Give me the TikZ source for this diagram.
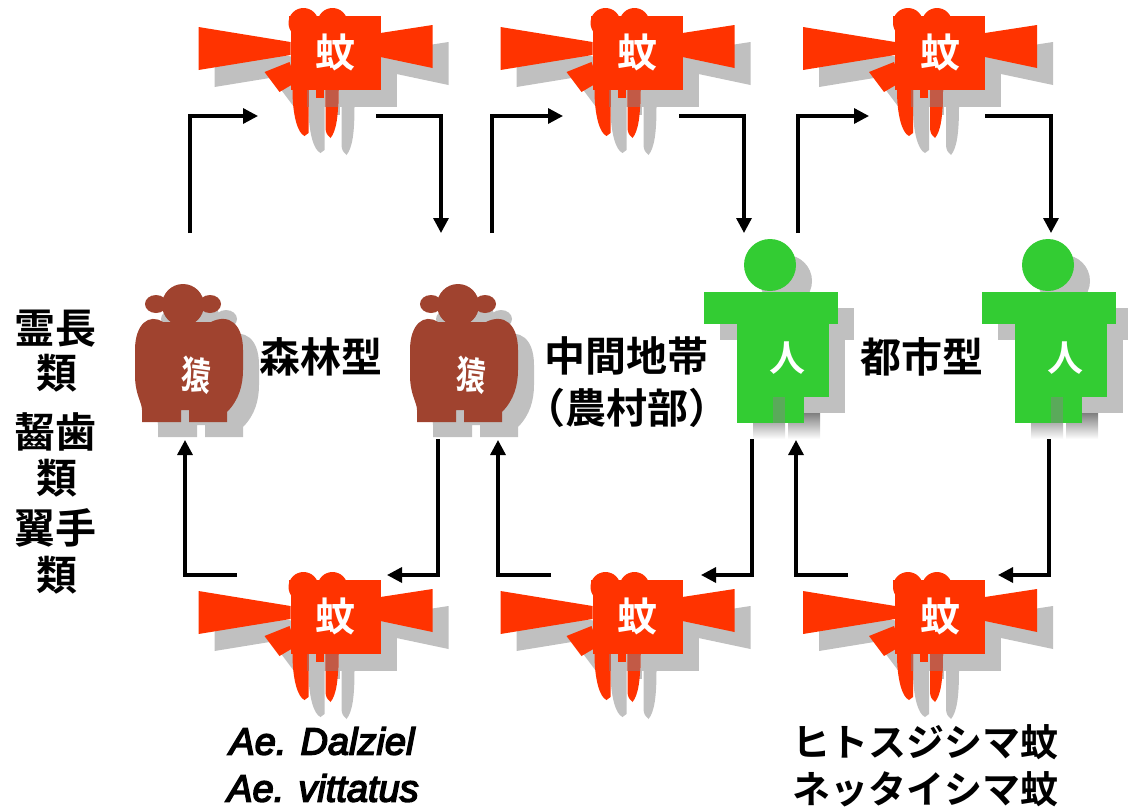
\documentclass[tikz,border=0pt]{standalone}
\usepackage{fontspec}
\newfontfamily\jp{Noto Sans CJK JP}[BoldFont={Noto Sans CJK JP Bold}]
\newfontfamily\latit{Liberation Sans Italic}[FakeBold=4]
\usetikzlibrary{arrows.meta}
\definecolor{mred}{HTML}{FF3300}
\definecolor{mbrown}{HTML}{A0432F}
\definecolor{hgreen}{HTML}{33CC33}
\definecolor{shade}{HTML}{C0C0C0}
\definecolor{movl}{HTML}{C25A46}
\definecolor{hovl}{HTML}{5AAA5A}
\tikzset{
  arr/.style={line width=3.3pt,-{Triangle[length=15pt,width=15pt]}},
  lbl/.style={inner sep=0pt,font=\jp\bfseries\fontsize{41}{46}\selectfont},
  icontext/.style={inner sep=0pt,text=white,font=\jp\bfseries\fontsize{40}{44}\selectfont},
  species/.style={inner sep=0pt,font=\jp\bfseries\fontsize{38}{42}\selectfont},
  latin/.style={inner sep=0pt,font=\latit\fontsize{38}{42}\selectfont}
}
% ---------- mosquito ----------
\newcommand{\prongs}[1]{%
  \path[#1] (-43,37) .. controls (-43,62) and (-38,80) .. (-31,83) -- (-27,80) -- (-27,37) -- cycle
            (-10,37) -- (-10,76) .. controls (-9,81) .. (-5,85) .. controls (1,78) and (3,62) .. (3,37) -- cycle;}
\newcommand{\mosqparts}[1]{%
  \path[#1] (-137,-26) -- (-45,-11) -- (-45,2) -- (-137,17) -- cycle;
  \path[#1] (45,-20) -- (97,-28) -- (97,15) -- (45,4) -- cycle;
  \path[#1] (-71,19) -- (-46,9) -- (-39,29) -- (-56,39) -- cycle;
  \path[#1] (-45,-37) rectangle (45,37);
  \path[#1] (-32,-30) circle (15pt);
  \path[#1] (-3,-30) circle (15pt);
  \path[#1] (-47,-30) rectangle (12,-37);
  \path[#1] (-20,37) rectangle (-12,45);
  \prongs{#1}}
\newcommand{\mosquito}[3]{%
  \begin{scope}[shift={(#1,#2)}]
    \begin{scope}[shift={(16,17)}]\mosqparts{fill=shade}\end{scope}
    \mosqparts{fill=mred}
    \begin{scope}\prongs{clip}\fill[movl] (-29,37) rectangle (61,54);\end{scope}
    \node[icontext] (#3) at (0,-1) {蚊};
  \end{scope}}
% ---------- monkey ----------
\newcommand{\monkparts}[1]{%
  \path[#1] (-6,-65) circle (21pt);
  \path[#1] (-33,-66) ellipse (11pt and 9pt);
  \path[#1] (21,-66) ellipse (11pt and 9pt);
  \path[#1] (-26,-48) .. controls (-40,-57) and (-54,-46) .. (-54,-20) -- (-54,5)
     .. controls (-54,25) and (-47,32) .. (-47,40) -- (-47,52) -- (-8,52) -- (-8,40)
     -- (0,40) -- (0,52) -- (38,52) -- (38,42) .. controls (50,30) and (54,15) .. (54,0)
     -- (54,-20) .. controls (54,-46) and (40,-57) .. (22,-48) -- cycle;}
\newcommand{\monkey}[3]{%
  \begin{scope}[shift={(#1,#2)}]
    \begin{scope}[shift={(16,15)}]\monkparts{fill=shade}\end{scope}
    \monkparts{fill=mbrown}
    \node[icontext,font=\jp\bfseries\fontsize{38}{42}\selectfont,xscale=0.78,rotate=-6] (#3) at (7,5) {猿};
  \end{scope}}
% ---------- human ----------
\newcommand{\humparts}[1]{%
  \path[#1] (0,0) circle (26pt);
  \path[#1] (-66,27) rectangle (68,59);
  \path[#1] (-33,59) rectangle (59,132);}
\newcommand{\human}[3]{%
  \begin{scope}[shift={(#1,#2)}]
    \begin{scope}[shift={(16,16)}]\humparts{fill=shade}
      \fill[shade] (-33,132) rectangle (-1,158);
      \fill[shade] (2,132) rectangle (34,158);\end{scope}
    \humparts{fill=hgreen}
    \fill[hgreen] (-33,131) rectangle (34,158);
    \fill[hovl] (3,132) rectangle (15,158);
    \node[icontext,font=\jp\bfseries\fontsize{36}{40}\selectfont] (#3) at (17,93) {人};
  \end{scope}}
\begin{document}
\begin{tikzpicture}[x=1pt,y=-1pt]
\useasboundingbox (0,0) rectangle (1128,809);
% icons
\mosquito{335.5}{53}{q1}
\mosquito{637.5}{53}{q2}
\mosquito{940}{53}{q3}
\mosquito{335.5}{617}{q4}
\mosquito{637.5}{617}{q5}
\mosquito{940}{617}{q6}
\monkey{189}{370}{mk1}
\monkey{464}{370}{mk2}
\human{770}{265}{hu1}
\human{1048}{265}{hu2}
% labels
\node[lbl] (t1) at (321,357) {森林型};
\node[lbl] (t2) at (626,356) {中間地帯};
\node[lbl] (t3) at (627,408) {（農村部）};
\node[lbl] (t4) at (922,357) {都市型};
\node[lbl] (g1) at (56,329) {霊長};
\node[lbl] (g2) at (57,373) {類};
\node[lbl] (g3) at (56,432) {齧歯};
\node[lbl] (g4) at (57,478) {類};
\node[lbl] (g5) at (56,528) {翼手};
\node[lbl] (g6) at (57,575) {類};
\node[latin] (s1) at (322,741) {Ae. Dalziel};
\node[latin] (s2) at (323,788) {Ae. vittatus};
\node[species] (s3) at (925,742) {ヒトスジシマ蚊};
\node[species] (s4) at (925,789) {ネッタイシマ蚊};
% connector end points
\coordinate (a1s) at (190,233); \coordinate (a1e) at (258,116);
\coordinate (a2s) at (376,116); \coordinate (a2e) at (441,233);
\coordinate (b1s) at (492,233); \coordinate (b1e) at (563,116);
\coordinate (b2s) at (679,116); \coordinate (b2e) at (744,233);
\coordinate (c1s) at (798,233); \coordinate (c1e) at (869,116);
\coordinate (c2s) at (985,116); \coordinate (c2e) at (1051,233);
\coordinate (d1s) at (438,439); \coordinate (d1e) at (387,575);
\coordinate (d2s) at (237,575); \coordinate (d2e) at (185,440);
\coordinate (e1s) at (752,439); \coordinate (e1e) at (701,575);
\coordinate (e2s) at (551,575); \coordinate (e2e) at (498,440);
\coordinate (f1s) at (1049,439); \coordinate (f1e) at (998,575);
\coordinate (f2s) at (848,575); \coordinate (f2e) at (796,440);
% connectors
\draw[arr] (a1s) |- (a1e);
\draw[arr] (a2s) -| (a2e);
\draw[arr] (b1s) |- (b1e);
\draw[arr] (b2s) -| (b2e);
\draw[arr] (c1s) |- (c1e);
\draw[arr] (c2s) -| (c2e);
\draw[arr] (d1s) |- (d1e);
\draw[arr] (d2s) -| (d2e);
\draw[arr] (e1s) |- (e1e);
\draw[arr] (e2s) -| (e2e);
\draw[arr] (f1s) |- (f1e);
\draw[arr] (f2s) -| (f2e);
\end{tikzpicture}
\end{document}
